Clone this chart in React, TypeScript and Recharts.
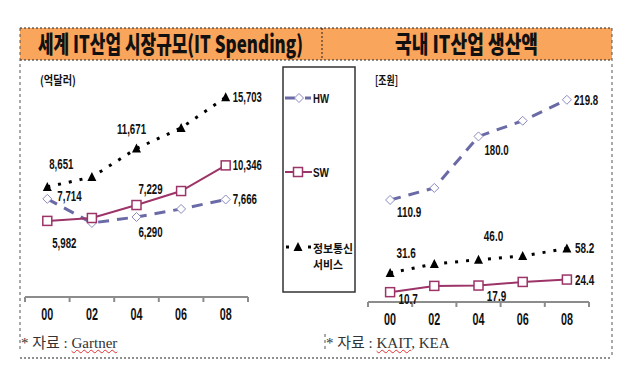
import React from "react";
import { LineChart, Line, XAxis, YAxis, LabelList } from "recharts";

const years = ["00", "02", "04", "06", "08"];
const worldHW = [7714, 5820, 6290, 6920, 7666];
const worldSW = [5982, 6210, 7229, 8330, 10346];
const worldSvc = [8651, 9430, 11671, 13290, 15703];
const koreaHW = [110.9, 124.0, 180.0, 197.0, 219.8];
const koreaSW = [10.7, 17.5, 17.9, 21.8, 24.4];
const koreaSvc = [31.6, 41.4, 46.0, 50.0, 58.2];

const worldRows = years.map((year, i) => ({ year, hw: worldHW[i], sw: worldSW[i], svc: worldSvc[i] }));
const koreaRows = years.map((year, i) => ({ year, hw: koreaHW[i], sw: koreaSW[i], svc: koreaSvc[i] }));

const HW_COLOR = "#6a6aa6";
const HW_MARK = "#8a8ac2";
const SW_COLOR = "#9c3468";
const ORANGE = "#f9a55c";
const NUM_FONT = "'Liberation Sans', Arial, sans-serif";
const KR_FONT = "'Noto Sans CJK KR', sans-serif";

// label placement per point: [index, dx, dy, anchor]
type Spot = [number, number, number, "start" | "middle"];
const worldSpots: Record<string, Spot[]> = {
  hw: [[0, 10, -3, "start"], [2, 14, 15, "middle"], [4, 7, 0, "start"]],
  sw: [[0, 17, 22, "middle"], [2, 14, -16, "middle"], [4, 7, 0, "start"]],
  svc: [[0, 14, -23, "middle"], [2, -5, -20, "middle"], [4, 7, 0, "start"]],
};
const koreaSpots: Record<string, Spot[]> = {
  hw: [[0, 19, 12, "middle"], [2, 18, 14, "middle"], [4, 7, 0, "start"]],
  sw: [[0, 18, 7, "middle"], [2, 18, 10, "middle"], [4, 8, 0, "start"]],
  svc: [[0, 16, -20, "middle"], [2, 15, -24, "middle"], [4, 8, 0, "start"]],
};

const fmtComma = (v: number) => v.toLocaleString("en-US");
const fmtOne = (v: number) => v.toFixed(1);

const makeLabel = (spots: Spot[], fmt: (v: number) => string) => (props: any) => {
  const spot = spots.find(s => s[0] === props.index);
  if (!spot) return null;
  const text = fmt(Number(props.value));
  return (
    <text
      x={Number(props.x) + spot[1]}
      y={Number(props.y) + spot[2]}
      textAnchor={spot[3]}
      dominantBaseline="central"
      fontFamily={NUM_FONT}
      fontWeight={700}
      fontSize={14}
      textLength={text.length * 4.85}
      lengthAdjust="spacingAndGlyphs"
      fill="#111"
    >
      {text}
    </text>
  );
};

const makeTick = (band: number) => (props: any) => {
  const { x, y, payload, index } = props;
  const half = band / 2;
  return (
    <g>
      <line x1={x - half} x2={x - half} y1={y} y2={y + 5} stroke="#8c8c8c" strokeWidth={2} />
      {index === years.length - 1 && (
        <line x1={x + half} x2={x + half} y1={y} y2={y + 5} stroke="#8c8c8c" strokeWidth={2} />
      )}
      <text x={x} y={y + 23} textAnchor="middle" fontFamily={NUM_FONT} fontWeight={700} fontSize={17}
        textLength={12} lengthAdjust="spacingAndGlyphs" fill="#111">
        {payload.value}
      </text>
    </g>
  );
};

const Diamond = ({ cx, cy }: any) => (
  <path d={`M${cx},${cy - 4.5} L${cx + 4.5},${cy} L${cx},${cy + 4.5} L${cx - 4.5},${cy} Z`}
    fill="#fff" stroke={HW_MARK} strokeWidth={1} />
);
const Square = ({ cx, cy }: any) => (
  <rect x={cx - 4.5} y={cy - 4.5} width={9} height={9} fill="#fff" stroke={SW_COLOR} strokeWidth={1.5} />
);
const Tri = ({ cx, cy }: any) => (
  <path d={`M${cx},${cy - 5} L${cx + 4.5},${cy + 4} L${cx - 4.5},${cy + 4} Z`} fill="#000" />
);

function Panel({ rows, spots, fmt, max, margin, band }: any) {
  return (
    <div style={{ position: "absolute", left: 0, top: 0 }}>
      <LineChart width={635} height={389} data={rows} margin={margin}>
        <XAxis dataKey="year" padding={{ left: band / 2, right: band / 2 }} height={30} interval={0}
          tickSize={0} tickMargin={0} tickLine={false}
          axisLine={{ stroke: "#8c8c8c", strokeWidth: 2 }} tick={makeTick(band)} />
        <YAxis hide domain={[0, max]} />
        <Line type="linear" dataKey="hw" stroke={HW_COLOR} strokeWidth={3} strokeDasharray="11 8"
          isAnimationActive={false} dot={(p: any) => <Diamond key={`d${p.index}`} cx={p.cx} cy={p.cy} />}>
          <LabelList dataKey="hw" content={makeLabel(spots.hw, fmt)} />
        </Line>
        <Line type="linear" dataKey="sw" stroke={SW_COLOR} strokeWidth={2}
          isAnimationActive={false} dot={(p: any) => <Square key={`s${p.index}`} cx={p.cx} cy={p.cy} />}>
          <LabelList dataKey="sw" content={makeLabel(spots.sw, fmt)} />
        </Line>
        <Line type="linear" dataKey="svc" stroke="#000" strokeWidth={3} strokeDasharray="3 8"
          isAnimationActive={false} dot={(p: any) => <Tri key={`t${p.index}`} cx={p.cx} cy={p.cy} />}>
          <LabelList dataKey="svc" content={makeLabel(spots.svc, fmt)} />
        </Line>
      </LineChart>
    </div>
  );
}

function Frame() {
  const dot = { stroke: "#222", strokeWidth: 1, strokeDasharray: "2 2" };
  const dash = { stroke: "#555", strokeWidth: 1, strokeDasharray: "3 3" };
  return (
    <svg width={635} height={389} style={{ position: "absolute", left: 0, top: 0 }}>
      <rect x={20} y={28} width={592} height={32} fill={ORANGE} />
      <line x1={20} x2={612} y1={28} y2={28} {...dot} />
      <line x1={20} x2={612} y1={60} y2={60} {...dot} />
      <line x1={322} x2={322} y1={28} y2={60} {...dot} />
      <line x1={20} x2={20} y1={28} y2={352} {...dash} />
      <line x1={612} x2={612} y1={28} y2={358} {...dash} />
      <line x1={20} x2={612} y1={358} y2={358} {...dot} />
      <line x1={325} x2={325} y1={334} y2={352} {...dash} />

      <text x={170.5} y={53} textAnchor="middle" fontFamily={KR_FONT} fontWeight={900} fontSize={24}
        textLength={265} lengthAdjust="spacingAndGlyphs" fill="#111">세계 IT산업 시장규모(IT Spending)</text>
      <text x={466.5} y={53} textAnchor="middle" fontFamily={KR_FONT} fontWeight={900} fontSize={24}
        textLength={143} lengthAdjust="spacingAndGlyphs" fill="#111">국내 IT산업 생산액</text>

      <text x={40} y={85} fontFamily={KR_FONT} fontWeight={700} fontSize={12}
        textLength={36} lengthAdjust="spacingAndGlyphs" fill="#111">(억달러)</text>
      <text x={375} y={85} fontFamily={KR_FONT} fontWeight={700} fontSize={12}
        textLength={23} lengthAdjust="spacingAndGlyphs" fill="#111">[조원]</text>

      {/* legend */}
      <rect x={283} y={67} width={72} height={225} fill="#fff" stroke="#333" strokeWidth={1.5} />
      <line x1={285} x2={295} y1={98} y2={98} stroke={HW_COLOR} strokeWidth={3} />
      <line x1={305} x2={311} y1={98} y2={98} stroke={HW_COLOR} strokeWidth={3} />
      <Diamond cx={299} cy={98} />
      <text x={313} y={103} fontFamily={NUM_FONT} fontWeight={700} fontSize={13}
        textLength={16} lengthAdjust="spacingAndGlyphs" fill="#111">HW</text>
      <line x1={285} x2={312} y1={172} y2={172} stroke={SW_COLOR} strokeWidth={2} />
      <Square cx={298} cy={172} />
      <text x={313} y={177} fontFamily={NUM_FONT} fontWeight={700} fontSize={13}
        textLength={16} lengthAdjust="spacingAndGlyphs" fill="#111">SW</text>
      <line x1={286} x2={289} y1={247} y2={247} stroke="#000" strokeWidth={3} />
      <line x1={308} x2={311} y1={247} y2={247} stroke="#000" strokeWidth={3} />
      <Tri cx={298} cy={247} />
      <text x={313} y={253} fontFamily={KR_FONT} fontWeight={700} fontSize={11.5}
        textLength={40} lengthAdjust="spacingAndGlyphs" fill="#111">정보통신</text>
      <text x={313} y={269} fontFamily={KR_FONT} fontWeight={700} fontSize={11.5}
        textLength={30} lengthAdjust="spacingAndGlyphs" fill="#111">서비스</text>
    </svg>
  );
}

const footStyle: React.CSSProperties = {
  position: "absolute",
  top: 334,
  fontFamily: "'Liberation Serif', 'Noto Sans CJK KR', serif",
  fontSize: 15,
  color: "#333",
  whiteSpace: "nowrap",
  lineHeight: "18px",
};
const squiggle: React.CSSProperties = { textDecoration: "underline wavy #e03030", textDecorationThickness: 1 };

export default function App() {
  return (
    <div style={{ position: "absolute", left: 0, top: 0, width: 635, height: 389, background: "#fff" }}>
      <Frame />
      <Panel rows={worldRows} spots={worldSpots} fmt={fmtComma} max={18000} band={44.6}
        margin={{ top: 68, right: 387, bottom: 62, left: 25 }} />
      <Panel rows={koreaRows} spots={koreaSpots} fmt={fmtOne} max={250} band={44.2}
        margin={{ top: 72, right: 46, bottom: 57, left: 368 }} />
      <div style={{ ...footStyle, left: 21 }}>* 자료 : <span style={squiggle}>Gartner</span></div>
      <div style={{ ...footStyle, left: 326 }}>* 자료 : <span style={squiggle}>KAIT</span>, KEA</div>
    </div>
  );
}
